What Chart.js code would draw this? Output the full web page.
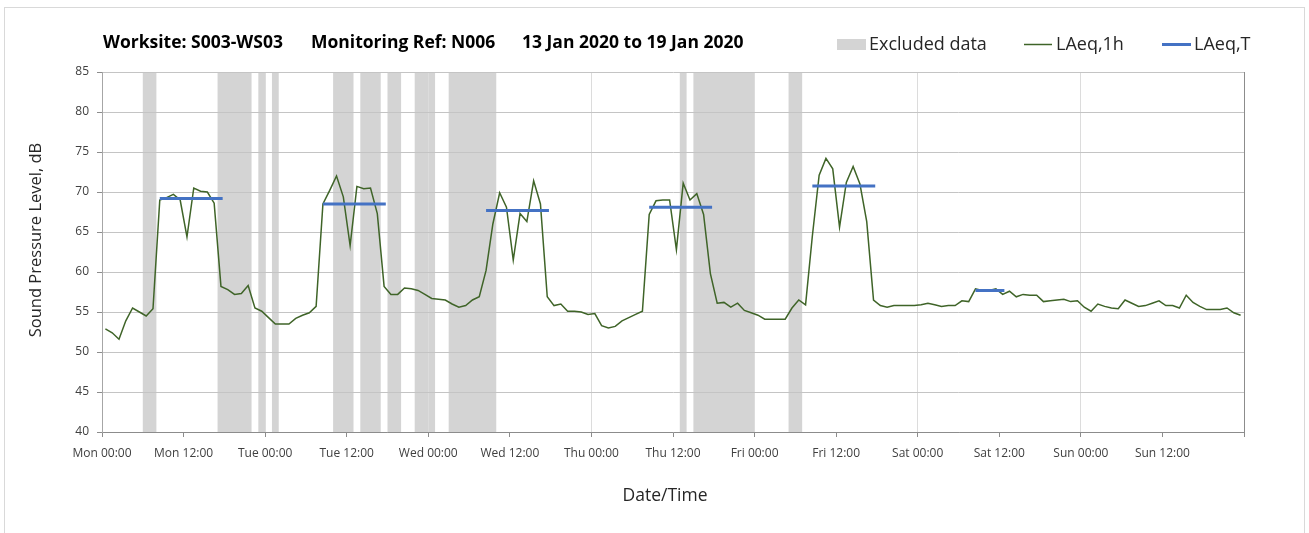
<!DOCTYPE html>
<html>
<head>
<meta charset="utf-8">
<title>LAeq monitoring - S003-WS03</title>
<script src="https://cdn.jsdelivr.net/npm/chart.js@4.4.1/dist/chart.umd.min.js"></script>
<style>
  html, body { margin: 0; padding: 0; background: #fff; }
  #wrap { position: relative; width: 1309px; height: 533px; overflow: hidden; }
  #frame { position: absolute; left: 4px; top: 7px; width: 1301px; height: 540px; border: 1px solid #d9d9d9; box-sizing: border-box; }
  canvas { position: absolute; left: 0; top: 0; }
</style>
</head>
<body>
<div id="wrap">
  <div id="frame"></div>
  <canvas id="noiseChart" width="1309" height="533"></canvas>
</div>
<script>
// 1. DATA
const titleParts = ['Worksite: S003-WS03', 'Monitoring Ref: N006', '13 Jan 2020 to 19 Jan 2020'];

// x axis in hours from Mon 00:00, one tick every 12 h
const tickLabels = ['Mon 00:00', 'Mon 12:00', 'Tue 00:00', 'Tue 12:00', 'Wed 00:00', 'Wed 12:00',
                    'Thu 00:00', 'Thu 12:00', 'Fri 00:00', 'Fri 12:00', 'Sat 00:00', 'Sat 12:00',
                    'Sun 00:00', 'Sun 12:00', ''];

// hourly LAeq,1h (dB), first value = Mon 00:00-01:00
const laeq1h = [
  52.9, 52.4, 51.6, 53.9, 55.5, 55.0, 54.5, 55.4, 69.0, 69.3, 69.7, 69.0,
  64.4, 70.5, 70.1, 70.0, 68.6, 58.2, 57.8, 57.2, 57.3, 58.3, 55.5, 55.1,
  54.3, 53.5, 53.5, 53.5, 54.2, 54.6, 54.9, 55.7, 68.5, 70.2, 72.0, 69.4,
  63.3, 70.7, 70.4, 70.5, 67.3, 58.2, 57.2, 57.2, 58.0, 57.9, 57.7, 57.2,
  56.7, 56.6, 56.5, 56.0, 55.6, 55.8, 56.5, 56.9, 60.2, 66.0, 69.9, 68.1,
  61.5, 67.3, 66.3, 71.4, 68.5, 56.9, 55.8, 56.0, 55.1, 55.1, 55.0, 54.7,
  54.8, 53.3, 53.0, 53.2, 53.9, 54.3, 54.7, 55.1, 67.2, 68.9, 69.0, 69.0,
  62.8, 71.1, 69.0, 69.8, 67.2, 59.8, 56.1, 56.2, 55.6, 56.1, 55.2, 54.9,
  54.6, 54.1, 54.1, 54.1, 54.1, 55.5, 56.5, 55.9, 64.5, 72.1, 74.2, 72.9,
  65.6, 71.2, 73.2, 71.0, 66.3, 56.5, 55.8, 55.6, 55.8, 55.8, 55.8, 55.8,
  55.9, 56.1, 55.9, 55.7, 55.8, 55.8, 56.4, 56.3, 57.9, 57.7, 57.7, 57.9,
  57.2, 57.6, 56.9, 57.2, 57.1, 57.1, 56.3, 56.4, 56.5, 56.6, 56.3, 56.4,
  55.6, 55.1, 56.0, 55.7, 55.5, 55.4, 56.5, 56.1, 55.7, 55.8, 56.1, 56.4,
  55.8, 55.8, 55.5, 57.1, 56.2, 55.7, 55.3, 55.3, 55.3, 55.5, 54.9, 54.6
];

// LAeq,T over each daytime period (hours from Mon 00:00)
const laeqTStart = [8.5, 32.5, 56.5, 80.5, 104.5, 128.5];
const laeqTEnd   = [17.75, 41.75, 65.75, 89.75, 113.75, 132.75];
const laeqTValue = [69.2, 68.5, 67.7, 68.1, 70.75, 57.7];

// excluded data periods (hours from Mon 00:00)
const excludedStart = [6, 17, 23, 25, 34, 38, 42, 46, 51, 85, 87, 101];
const excludedEnd   = [8, 22, 24, 26, 37, 41, 44, 49, 58, 86, 96, 103];

// 2. STYLE
const GREEN = '#3f6428';
const BLUE = '#4472C4';
const BAND = '#d4d4d4';
const AXIS_GREY = '#8c8c8c';
const TEXT = '#262626';
const FONT = "'Open Sans', sans-serif";

Chart.defaults.font.family = FONT;

// build chart points from the arrays
const hourlyPoints = laeq1h.map((v, i) => ({ x: i + 0.5, y: v }));
const periodPoints = [];
laeqTStart.forEach((s, k) => {
    if (k > 0) periodPoints.push({ x: s - 1, y: null }); // break between periods
    periodPoints.push({ x: s, y: laeqTValue[k] });
    periodPoints.push({ x: laeqTEnd[k], y: laeqTValue[k] });
});

// grey bands behind the grid
const excludedBands = {
    id: 'excludedBands',
    beforeDraw(chart) {
        const { ctx, chartArea, scales: { x } } = chart;
        ctx.save();
        ctx.fillStyle = BAND;
        excludedStart.forEach((s, k) => {
            const x0 = x.getPixelForValue(s);
            const x1 = x.getPixelForValue(excludedEnd[k]);
            ctx.fillRect(x0, chartArea.top, x1 - x0, chartArea.bottom - chartArea.top);
        });
        ctx.restore();
    }
};

// title, legend and axis titles
const chartText = {
    id: 'chartText',
    afterDraw(chart) {
        const { ctx, chartArea } = chart;
        ctx.save();
        ctx.textBaseline = 'middle';

        // title
        ctx.fillStyle = '#000';
        ctx.font = 'bold 17.5px ' + FONT;
        const titleX = [chartArea.left + 1, 311, 522];
        titleParts.forEach((t, k) => ctx.fillText(t, titleX[k], 43));

        // legend
        ctx.font = '18px ' + FONT;
        ctx.fillStyle = BAND;
        ctx.fillRect(837, 39, 29, 11);
        ctx.fillStyle = TEXT;
        ctx.fillText('Excluded data', 869, 45);

        ctx.strokeStyle = GREEN;
        ctx.lineWidth = 1.5;
        ctx.beginPath(); ctx.moveTo(1024, 44.5); ctx.lineTo(1052, 44.5); ctx.stroke();
        ctx.fillText('LAeq,1h', 1056, 45);

        ctx.strokeStyle = BLUE;
        ctx.lineWidth = 3;
        ctx.beginPath(); ctx.moveTo(1162, 44.5); ctx.lineTo(1191, 44.5); ctx.stroke();
        ctx.fillText('LAeq,T', 1194, 45);

        // x axis title
        ctx.textAlign = 'center';
        ctx.font = '17.5px ' + FONT;
        ctx.fillText('Date/Time', 665, 496);

        // y axis title
        ctx.font = '16.5px ' + FONT;
        ctx.translate(36, 240);
        ctx.rotate(-Math.PI / 2);
        ctx.fillText('Sound Pressure Level, dB', 0, 0);
        ctx.restore();
    }
};

// 3. CHART
new Chart(document.getElementById('noiseChart'), {
    type: 'line',
    data: {
        datasets: [
            {
                label: 'LAeq,T',
                data: periodPoints,
                borderColor: BLUE,
                borderWidth: 3,
                borderCapStyle: 'butt',
                pointRadius: 0,
                spanGaps: false
            },
            {
                label: 'LAeq,1h',
                data: hourlyPoints,
                borderColor: GREEN,
                borderWidth: 1.5,
                pointRadius: 0,
                tension: 0
            }
        ]
    },
    options: {
        responsive: false,
        animation: false,
        devicePixelRatio: 1,
        layout: { padding: { left: 0, right: 65, top: 72, bottom: 21 } },
        plugins: {
            legend: { display: false },
            tooltip: { enabled: false }
        },
        scales: {
            x: {
                type: 'linear',
                min: 0,
                max: 168,
                afterFit: s => { s.height = 80; },
                ticks: {
                    stepSize: 12,
                    autoSkip: false,
                    maxRotation: 0,
                    padding: 9,
                    color: '#404040',
                    font: { size: 12 },
                    callback: v => tickLabels[Math.round(v / 12)] || ''
                },
                grid: {
                    color: c => {
                        const v = c.tick ? c.tick.value : -1;
                        if (v === 168) return AXIS_GREY;
                        return v % 24 === 0 ? '#dcdcdc' : 'rgba(0,0,0,0)';
                    },
                    tickColor: AXIS_GREY,
                    tickLength: 5
                },
                border: { color: AXIS_GREY }
            },
            y: {
                min: 40,
                max: 85,
                afterFit: s => { s.width = 102; },
                ticks: {
                    stepSize: 5,
                    padding: 8,
                    color: '#404040',
                    font: { size: 12 }
                },
                grid: {
                    color: '#c4c4c4',
                    tickColor: AXIS_GREY,
                    tickLength: 5
                },
                border: { color: '#a6a6a6' }
            }
        }
    },
    plugins: [excludedBands, chartText]
});
</script>
</body>
</html>
